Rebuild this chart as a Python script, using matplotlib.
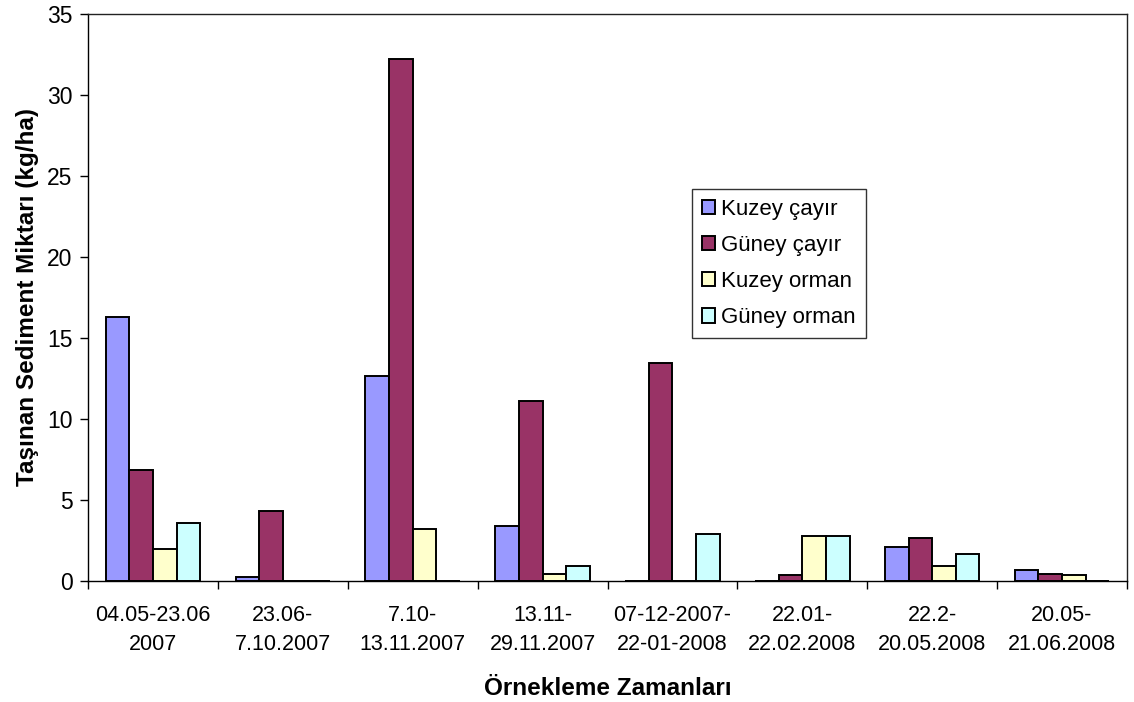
import numpy as np
import matplotlib.pyplot as plt

plt.rcParams['font.family'] = ['Liberation Sans', 'DejaVu Sans']

# Sampling periods and sediment amounts (kg/ha)
periods = ['04.05-23.06\n2007', '23.06-\n7.10.2007', '7.10-\n13.11.2007',
           '13.11-\n29.11.2007', '07-12-2007-\n22-01-2008', '22.01-\n22.02.2008',
           '22.2-\n20.05.2008', '20.05-\n21.06.2008']
kuzey_cayir = [16.3, 0.25, 12.65, 3.4, 0.0, 0.0, 2.1, 0.65]
guney_cayir = [6.85, 4.3, 32.2, 11.1, 13.45, 0.35, 2.65, 0.45]
kuzey_orman = [2.0, 0.0, 3.2, 0.45, 0.0, 2.75, 0.9, 0.35]
guney_orman = [3.55, 0.0, 0.0, 0.9, 2.9, 2.75, 1.68, 0.0]

series = [('Kuzey çayır', kuzey_cayir, '#9999FF'),
          ('Güney çayır', guney_cayir, '#993366'),
          ('Kuzey orman', kuzey_orman, '#FFFFCC'),
          ('Güney orman', guney_orman, '#CCFFFF')]

fig = plt.figure(figsize=(11.34, 7.02), dpi=100)
ax = fig.add_axes([88 / 1134, 1 - 581 / 702, 1039 / 1134, 567 / 702])

x = np.arange(len(periods))
w = 1 / 5.5
for i, (name, vals, col) in enumerate(series):
    ax.bar(x + (i - 1.5) * w, vals, width=w, color=col, edgecolor='black',
           linewidth=1.4, label=name)

ax.set_xlim(-0.5, len(periods) - 0.5)
ax.set_ylim(0, 35)
ax.set_yticks(range(0, 36, 5))
ax.tick_params(axis='y', labelsize=16.5, length=6, width=1, direction='out', pad=5)

# category labels centred, tick marks on the category boundaries
ax.set_xticks(x)
ax.set_xticklabels(periods, fontsize=15.5, linespacing=1.5)
ax.tick_params(axis='x', which='major', length=0, pad=17)
ax.set_xticks(np.arange(-0.5, len(periods)), minor=True)
ax.tick_params(axis='x', which='minor', length=6, width=1, direction='out')

for side in ['top', 'right']:
    ax.spines[side].set_linewidth(1.0)
    ax.spines[side].set_color('#222222')
ax.spines['left'].set_linewidth(1.0)
ax.spines['bottom'].set_linewidth(1.0)

ax.set_ylabel('Taşınan Sediment Miktarı (kg/ha)', fontsize=17.5, fontweight='bold',
              labelpad=6)
ax.set_xlabel('Örnekleme Zamanları', fontsize=17.5, fontweight='bold', labelpad=16)

leg = ax.legend(loc='upper left', bbox_to_anchor=(692 / 1134, 1 - 189 / 702),
                bbox_transform=fig.transFigure, fontsize=16, frameon=True,
                fancybox=False, edgecolor='black', handlelength=0.6,
                handleheight=0.6, handletextpad=0.25, labelspacing=0.68,
                borderpad=0.45, borderaxespad=0)
leg.get_frame().set_linewidth(1.0)

fig.savefig('out.png', dpi=100, facecolor='white')
